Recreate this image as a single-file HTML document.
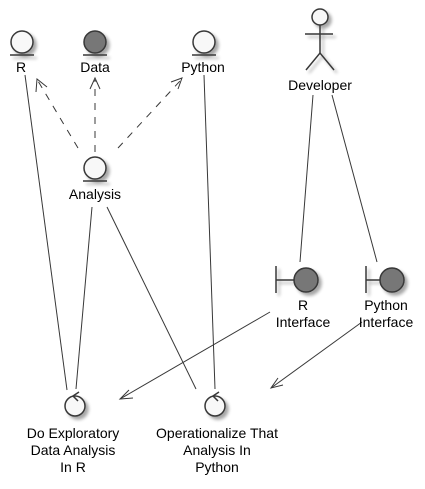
<!DOCTYPE html>
<html><head><meta charset="utf-8"><style>
html,body{margin:0;padding:0;background:#fff}
svg text{font-family:"Liberation Sans",sans-serif;font-size:14px;fill:#000;text-anchor:middle}
</style></head><body>
<svg width="425" height="484" viewBox="0 0 425 484" xmlns="http://www.w3.org/2000/svg">
<defs>
<filter id="sh" x="-50%" y="-50%" width="200%" height="200%"><feGaussianBlur in="SourceAlpha" stdDeviation="1.5"/><feOffset dx="3" dy="3"/><feComponentTransfer><feFuncA type="linear" slope="0.35"/></feComponentTransfer><feMerge><feMergeNode/><feMergeNode in="SourceGraphic"/></feMerge></filter>
</defs>
<g stroke="#383838" stroke-width="1" fill="none">
<line x1="25" y1="75" x2="67" y2="390"/>
<line x1="92" y1="207" x2="76" y2="389"/>
<line x1="107" y1="207" x2="196" y2="389"/>
<line x1="204" y1="75" x2="215" y2="389"/>
<line x1="313" y1="95" x2="300" y2="262"/>
<line x1="332" y1="95" x2="377" y2="262"/>
<line x1="270" y1="312" x2="120" y2="399"/>
<polyline points="129,390 120,399 133,398"/>
<line x1="362" y1="322" x2="271" y2="388"/>
<polyline points="278,378 271,388 283,385"/>
<g stroke-dasharray="7,7">
<line x1="78" y1="148" x2="38" y2="81"/>
<line x1="95" y1="152" x2="95" y2="80"/>
<line x1="118" y1="148" x2="180" y2="81"/>
</g>
<polyline points="36,92 37,79 47,87"/>
<polyline points="90,89 95,78 100,89"/>
<polyline points="171,82 182,78 178,89"/>
</g>
<g stroke="#383838" stroke-width="1.5" filter="url(#sh)">
<circle cx="22" cy="42" r="11" fill="#f8f8f8"/><line x1="10" y1="55" x2="34" y2="55"/>
<circle cx="95" cy="42" r="11" fill="#777"/><line x1="83" y1="55" x2="107" y2="55"/>
<circle cx="204" cy="42" r="11" fill="#f8f8f8"/><line x1="192" y1="55" x2="216" y2="55"/>
<circle cx="95" cy="168" r="11" fill="#f8f8f8"/><line x1="83" y1="181" x2="107" y2="181"/>
<circle cx="320" cy="17" r="8" fill="#f8f8f8"/>
<g fill="none"><line x1="320" y1="25" x2="320" y2="53"/><line x1="305" y1="34" x2="333" y2="34"/><polyline points="306,70 320,53 334,70"/></g>
<circle cx="306" cy="280" r="12" fill="#777"/><line x1="276" y1="266" x2="276" y2="293"/><line x1="276" y1="280" x2="294" y2="280"/>
<circle cx="392" cy="280" r="12" fill="#777"/><line x1="366" y1="266" x2="366" y2="293"/><line x1="366" y1="280" x2="380" y2="280"/>
<circle cx="75" cy="406" r="10" fill="#f8f8f8"/>
<circle cx="215" cy="406" r="10" fill="#f8f8f8"/>
</g>
<g stroke="#383838" stroke-width="1.5" fill="none">
<polyline points="79,392 73,396 78,401"/>
<polyline points="219,392 213,396 218,401"/>
</g>
<text x="21" y="72">R</text>
<text x="95" y="72">Data</text>
<text x="203" y="72">Python</text>
<text x="95" y="199">Analysis</text>
<text x="320" y="90">Developer</text>
<text x="303" y="310">R</text>
<text x="303" y="327">Interface</text>
<text x="386" y="310">Python</text>
<text x="386" y="327">Interface</text>
<text x="73" y="438">Do Exploratory</text>
<text x="73" y="455">Data Analysis</text>
<text x="73" y="472">In R</text>
<text x="217" y="438">Operationalize That</text>
<text x="217" y="455">Analysis In</text>
<text x="217" y="472">Python</text>
</svg>
</body></html>
